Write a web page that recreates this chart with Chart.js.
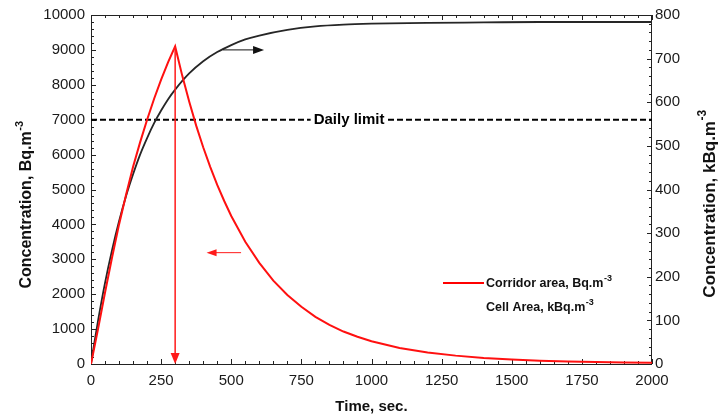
<!DOCTYPE html>
<html><head><meta charset="utf-8">
<script src="https://cdn.jsdelivr.net/npm/chart.js@4"></script>
<style>html,body{margin:0;padding:0;background:#fff;}#wrap{width:727px;height:419px;}</style>
</head><body><div id="wrap"><canvas id="c" width="727" height="419"></canvas></div>
<script>
// ---- data ----
const timeCorridor = [0,25,50,75,100,125,150,175,200,225,250,275,300,325,350,375,400,425,450,475,500,550,600,650,700,750,800,850,900,950,1000,1100,1200,1300,1400,1500,1600,1700,1800,1900,2000];
const corridorBq   = [0,1000,2050,3050,4000,4850,5650,6350,7000,7600,8150,8650,9100,8270,7520,6830,6210,5650,5130,4670,4240,3500,2900,2390,1980,1640,1350,1120,930,780,650,460,330,240,175,130,95,70,55,45,35];
const timeCell = [0,10,25,50,75,100,125,150,175,200,225,250,275,300,350,400,450,500,550,600,700,800,900,1000,1200,1400,1600,1800,2000];
const cellKBq  = [0,41,99,186,261,327,385,435,480,518,552,581,607,629,666,694,715,731,744,753,766,774,778,780,782,783,784,784,784];
const dailyLimit = 7000;
const xTickValues = [0,250,500,750,1000,1250,1500,1750,2000];
const yLeftTicks  = [0,1000,2000,3000,4000,5000,6000,7000,8000,9000,10000];
const yRightTicks = [0,100,200,300,400,500,600,700,800];

const FONT = '"Liberation Sans", Arial, Helvetica, sans-serif';
Chart.defaults.font.family = FONT;

function supText(ctx, main, sup, x, y, size, align){
  const mf = 'bold ' + size + 'px ' + FONT;
  const sf = 'bold ' + Math.round(size*0.7) + 'px ' + FONT;
  ctx.font = mf; const wm = ctx.measureText(main).width;
  ctx.font = sf; const ws = ctx.measureText(sup).width;
  const x0 = align === 'center' ? x - (wm + ws)/2 : x;
  ctx.textAlign = 'left'; ctx.textBaseline = 'middle';
  ctx.font = mf; ctx.fillText(main, x0, y);
  ctx.font = sf; ctx.fillText(sup, x0 + wm + 0.5, y - size*0.42);
}
function arrowHead(ctx, x1, y1, x2, y2, len, half){
  const a = Math.atan2(y2-y1, x2-x1);
  ctx.beginPath();
  ctx.moveTo(x2, y2);
  ctx.lineTo(x2 - len*Math.cos(a) + half*Math.sin(a), y2 - len*Math.sin(a) - half*Math.cos(a));
  ctx.lineTo(x2 - len*Math.cos(a) - half*Math.sin(a), y2 - len*Math.sin(a) + half*Math.cos(a));
  ctx.closePath(); ctx.fill();
}

const decor = {
  id: 'decor',
  beforeDatasetsDraw(chart){
    const {ctx, chartArea: a, scales} = chart;
    const x = scales.x, y = scales.y, y1 = scales.y1;
    ctx.save();
    ctx.strokeStyle = '#222'; ctx.lineWidth = 1;
    ctx.strokeRect(Math.round(a.left)+0.5, Math.round(a.top)+0.5, Math.round(a.right-a.left)-1, Math.round(a.bottom-a.top));
    ctx.beginPath();
    for (let v = 0; v <= 2000; v += 50){
      const px = Math.round(x.getPixelForValue(v)) + 0.5, len = v % 250 === 0 ? 5 : 3;
      ctx.moveTo(px, a.bottom); ctx.lineTo(px, a.bottom - len);
      ctx.moveTo(px, a.top); ctx.lineTo(px, a.top + len);
    }
    for (let v = 0; v <= 10000; v += 200){
      const py = Math.round(y.getPixelForValue(v)) + 0.5, len = v % 1000 === 0 ? 5 : 3;
      ctx.moveTo(a.left, py); ctx.lineTo(a.left + len, py);
    }
    for (let v = 0; v <= 800; v += 20){
      const py = Math.round(y1.getPixelForValue(v)) + 0.5, len = v % 100 === 0 ? 5 : 3;
      ctx.moveTo(a.right, py); ctx.lineTo(a.right - len, py);
    }
    ctx.stroke();
    ctx.restore();
  },
  afterDatasetsDraw(chart){
    const {ctx, chartArea: a, scales} = chart;
    const x = scales.x, y = scales.y, y1 = scales.y1;
    ctx.save();
    // Daily limit label
    const ly = y.getPixelForValue(dailyLimit);
    ctx.font = 'bold 15px ' + FONT;
    const lbl = 'Daily limit';
    const lw = ctx.measureText(lbl).width;
    const lx = x.getPixelForValue(920);
    ctx.fillStyle = '#fff'; ctx.fillRect(lx - lw/2 - 3, ly - 8, lw + 6, 16);
    ctx.fillStyle = '#000'; ctx.textAlign = 'center'; ctx.textBaseline = 'middle';
    ctx.fillText(lbl, lx, ly);
    // peak arrow (red, vertical)
    const peakIdx = corridorBq.indexOf(Math.max(...corridorBq));
    const px = x.getPixelForValue(timeCorridor[peakIdx]);
    const pTop = y.getPixelForValue(corridorBq[peakIdx]);
    const pBot = y.getPixelForValue(0);
    ctx.strokeStyle = '#ff1a1a'; ctx.fillStyle = '#ff1a1a'; ctx.lineWidth = 1.5;
    ctx.beginPath(); ctx.moveTo(px, pTop); ctx.lineTo(px, pBot - 8); ctx.stroke();
    arrowHead(ctx, px, pTop, px, pBot, 11, 4.5);
    // red arrow toward left axis
    const ry = y.getPixelForValue(3190);
    const rx1 = x.getPixelForValue(535), rx2 = x.getPixelForValue(412);
    ctx.lineWidth = 1;
    ctx.beginPath(); ctx.moveTo(rx1, ry); ctx.lineTo(rx2 + 8, ry); ctx.stroke();
    arrowHead(ctx, rx1, ry, rx2, ry, 10, 3.5);
    // black arrow toward right axis
    const by = y1.getPixelForValue(720);
    const bx1 = x.getPixelForValue(470), bx2 = x.getPixelForValue(617);
    ctx.strokeStyle = '#111'; ctx.fillStyle = '#111';
    ctx.beginPath(); ctx.moveTo(bx1, by); ctx.lineTo(bx2 - 8, by); ctx.stroke();
    arrowHead(ctx, bx1, by, bx2, by, 11, 4);
    // legend
    ctx.strokeStyle = '#ff0000'; ctx.lineWidth = 2;
    ctx.beginPath(); ctx.moveTo(443, 283); ctx.lineTo(484, 283); ctx.stroke();
    ctx.fillStyle = '#111';
    supText(ctx, 'Corridor area, Bq.m', '-3', 486, 284, 12.5, 'left');
    supText(ctx, 'Cell Area, kBq.m', '-3', 486, 308, 12.5, 'left');
    // axis titles
    ctx.fillStyle = '#111';
    ctx.font = 'bold 15px ' + FONT; ctx.textAlign = 'center'; ctx.textBaseline = 'middle';
    ctx.fillText('Time, sec.', (a.left + a.right)/2, 407);
    ctx.save(); ctx.translate(27, 205); ctx.rotate(-Math.PI/2);
    supText(ctx, 'Concentration, Bq.m', '-3', 0, 0, 16, 'center'); ctx.restore();
    ctx.save(); ctx.translate(710, 204); ctx.rotate(-Math.PI/2);
    supText(ctx, 'Concentration, kBq.m', '-3', 0, 0, 17, 'center'); ctx.restore();
    ctx.restore();
  }
};

const tickFont = {size: 15, family: FONT};
const plain = v => String(v);
new Chart(document.getElementById('c'), {
  type: 'line',
  data: {
    datasets: [
      {label: 'Corridor area', data: timeCorridor.map((t,i)=>({x:t, y:corridorBq[i]})), yAxisID: 'y',
       borderColor: '#ff1010', borderWidth: 2, pointRadius: 0, tension: 0, fill: false},
      {label: 'Cell Area', data: timeCell.map((t,i)=>({x:t, y:cellKBq[i]})), yAxisID: 'y1',
       borderColor: '#262626', borderWidth: 1.8, pointRadius: 0, cubicInterpolationMode: 'monotone', fill: false},
      {label: 'Daily limit', data: [{x:0, y:dailyLimit}, {x:2000, y:dailyLimit}], yAxisID: 'y',
       borderColor: '#000', borderWidth: 2, borderDash: [6,3], pointRadius: 0, fill: false}
    ]
  },
  options: {
    responsive: false, animation: false, devicePixelRatio: 1,
    layout: {padding: {top: 13, left: 0, right: 0, bottom: 0}},
    plugins: {legend: {display: false}, tooltip: {enabled: false}},
    scales: {
      x: {type: 'linear', position: 'bottom', min: 0, max: 2000,
          afterBuildTicks: s => { s.ticks = xTickValues.map(v => ({value: v})); },
          afterFit: s => { s.height = 55; },
          grid: {display: false, drawTicks: false}, border: {display: false},
          ticks: {font: tickFont, color: '#1a1a1a', padding: 8, maxRotation: 0, autoSkip: false, callback: plain}},
      y: {type: 'linear', position: 'left', min: 0, max: 10000,
          afterBuildTicks: s => { s.ticks = yLeftTicks.map(v => ({value: v})); },
          afterFit: s => { s.width = 91; },
          grid: {display: false, drawTicks: false}, border: {display: false},
          ticks: {font: tickFont, color: '#1a1a1a', padding: 6, autoSkip: false, callback: plain}},
      y1: {type: 'linear', position: 'right', min: 0, max: 800,
          afterBuildTicks: s => { s.ticks = yRightTicks.map(v => ({value: v})); },
          afterFit: s => { s.width = 75; },
          grid: {display: false, drawTicks: false}, border: {display: false},
          ticks: {font: tickFont, color: '#1a1a1a', padding: 3, autoSkip: false, callback: plain}}
    }
  },
  plugins: [decor]
});
</script>
</body></html>
